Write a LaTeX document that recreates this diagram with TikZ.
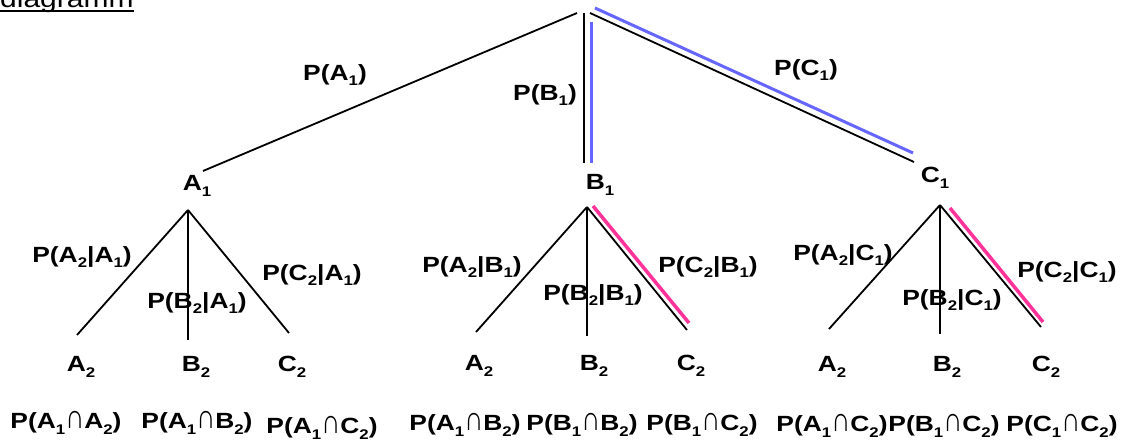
\documentclass[tikz,border=0pt]{standalone}
\usepackage{fontspec}
\setmainfont{Liberation Sans}[FakeStretch=1.2]
\definecolor{hlblue}{RGB}{102,102,255}
\definecolor{hlpink}{RGB}{255,51,153}
\newcommand\subx[1]{\raisebox{-5.5pt}{\fontsize{14}{14}\selectfont #1}}
\newcommand\capx{\scalebox{1.0}[1.55]{∩}}
\newcommand\ulx[1]{\setbox0\hbox{#1}\rlap{\rule[-4.7pt]{\wd0}{2.2pt}}\box0}
\tikzset{
  lbl/.style={font=\fontsize{22}{24}\selectfont\bfseries, inner sep=0pt, anchor=center},
  ttl/.style={font=\fontsize{25}{27}\selectfont, inner sep=0pt, anchor=base west},
  edge/.style={draw=black, line width=1.8pt},
  blueedge/.style={draw=hlblue, line width=3pt},
  pinkedge/.style={draw=hlpink, line width=3.5pt},
}
\begin{document}
\begin{tikzpicture}[x=1pt,y=-1pt]
\useasboundingbox (0,0) rectangle (1123,441);
% title
\node[ttl] (title) at (0,7.3) {\ulx{diagramm}};
% level 1 edges
\coordinate (rA) at (577,13);  \coordinate (eA1) at (203,171);
\coordinate (rB) at (584,13);  \coordinate (eB1) at (584,163);
\coordinate (rBb) at (591,22); \coordinate (eB1b) at (591,163);
\coordinate (rC) at (590,13);  \coordinate (eC1) at (914,162);
\coordinate (rCb) at (595,8);  \coordinate (eC1b) at (913,153);
\draw[edge] (rA) -- (eA1);
\draw[edge] (rB) -- (eB1);
\draw[blueedge] (rBb) -- (eB1b);
\draw[edge] (rC) -- (eC1);
\draw[blueedge] (rCb) -- (eC1b);
\node[lbl] (pA1) at (335,75) {P(A\subx{1})};
\node[lbl] (pB1) at (545,95) {P(B\subx{1})};
\node[lbl] (pC1) at (806,70) {P(C\subx{1})};
\node[lbl] (A1) at (197,186) {A\subx{1}};
\node[lbl] (B1) at (600,185) {B\subx{1}};
\node[lbl] (C1) at (935,178) {C\subx{1}};
% subtree A
\coordinate (aA) at (188,210);
\coordinate (aAa) at (77,335); \coordinate (aAb) at (188,340); \coordinate (aAc) at (289,333);
\draw[edge] (aA) -- (aAa);
\draw[edge] (aA) -- (aAb);
\draw[edge] (aA) -- (aAc);
\node[lbl] (pA2A1) at (82,257) {P(A\subx{2}|A\subx{1})};
\node[lbl] (pB2A1) at (197,303) {P(B\subx{2}|A\subx{1})};
\node[lbl] (pC2A1) at (312,275) {P(C\subx{2}|A\subx{1})};
\node[lbl] (A2a) at (81,367) {A\subx{2}};
\node[lbl] (B2a) at (196,367) {B\subx{2}};
\node[lbl] (C2a) at (292,367) {C\subx{2}};
\node[lbl] (iA1A2) at (66,423) {P(A\subx{1}\capx A\subx{2})};
\node[lbl] (iA1B2) at (197,423) {P(A\subx{1}\capx B\subx{2})};
\node[lbl] (iA1C2) at (322,428) {P(A\subx{1}\capx C\subx{2})};
% subtree B
\coordinate (aB) at (587,207);
\coordinate (aBa) at (476,332); \coordinate (aBb) at (587,336); \coordinate (aBc) at (687,330);
\coordinate (pkB1) at (593,206); \coordinate (pkB2) at (689,323);
\draw[edge] (aB) -- (aBa);
\draw[edge] (aB) -- (aBb);
\draw[edge] (aB) -- (aBc);
\draw[pinkedge] (pkB1) -- (pkB2);
\node[lbl] (pA2B1) at (472,267) {P(A\subx{2}|B\subx{1})};
\node[lbl] (pB2B1) at (593,295) {P(B\subx{2}|B\subx{1})};
\node[lbl] (pC2B1) at (708,267) {P(C\subx{2}|B\subx{1})};
\node[lbl] (A2b) at (479,366) {A\subx{2}};
\node[lbl] (B2b) at (594,366) {B\subx{2}};
\node[lbl] (C2b) at (691,366) {C\subx{2}};
\node[lbl] (iA1B2b) at (465,425) {P(A\subx{1}\capx B\subx{2})};
\node[lbl] (iB1B2) at (582,425) {P(B\subx{1}\capx B\subx{2})};
\node[lbl] (iB1C2) at (702,425) {P(B\subx{1}\capx C\subx{2})};
% subtree C
\coordinate (aC) at (940,205);
\coordinate (aCa) at (829,329); \coordinate (aCb) at (940,334); \coordinate (aCc) at (1041,327);
\coordinate (pkC1) at (950,208); \coordinate (pkC2) at (1043,322);
\draw[edge] (aC) -- (aCa);
\draw[edge] (aC) -- (aCb);
\draw[edge] (aC) -- (aCc);
\draw[pinkedge] (pkC1) -- (pkC2);
\node[lbl] (pA2C1) at (843,255) {P(A\subx{2}|C\subx{1})};
\node[lbl] (pB2C1) at (952,300) {P(B\subx{2}|C\subx{1})};
\node[lbl] (pC2C1) at (1067,272) {P(C\subx{2}|C\subx{1})};
\node[lbl] (A2c) at (832,367) {A\subx{2}};
\node[lbl] (B2c) at (947,367) {B\subx{2}};
\node[lbl] (C2c) at (1046,367) {C\subx{2}};
\node[lbl] (iA1C2c) at (832,426) {P(A\subx{1}\capx C\subx{2})};
\node[lbl] (iB1C2c) at (944,426) {P(B\subx{1}\capx C\subx{2})};
\node[lbl] (iC1C2) at (1062,426) {P(C\subx{1}\capx C\subx{2})};
\end{tikzpicture}
\end{document}
